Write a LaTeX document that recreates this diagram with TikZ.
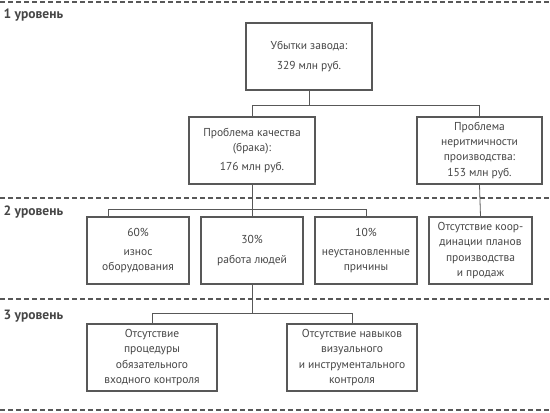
\documentclass[tikz,border=0pt]{standalone}
\usepackage{fontspec}
\setmainfont{PT Sans}
\usepackage{tikz}
\usetikzlibrary{positioning,calc}
\definecolor{framegray}{RGB}{88,88,88}
\definecolor{inkgray}{RGB}{70,70,70}

\begin{document}
\begin{tikzpicture}[x=1pt,y=-1pt,
    box/.style={draw=framegray,line width=1.4pt,inner sep=0pt,align=center,
      minimum height=67pt,text=inkgray,font=\fontsize{11.5}{15.2}\selectfont},
    link/.style={draw=framegray,line width=0.8pt},
    sep/.style={draw=framegray,line width=2.6pt,dash pattern=on 5pt off 3pt},
    lvl/.style={anchor=west,text=inkgray,font=\fontsize{13.5}{15}\selectfont\bfseries}]
  \useasboundingbox (0,0) rectangle (550,413);
  % level separators
  \draw[sep] (0,2) -- (550,2);
  \draw[sep] (0,198) -- (550,198);
  \draw[sep] (0,299) -- (550,299);
  \draw[sep] (0,410) -- (550,410);
  \node[lvl] (lvlone) at (0,15) {1 уровень};
  \node[lvl] (lvltwo) at (0,212) {2 уровень};
  \node[lvl] (lvlthree) at (0,316) {3 уровень};
  % level 1
  \node[box,minimum width=126pt] (loss) at (309,56.5) {Убытки завода:\\[4pt]329 млн руб.};
  \node[box,minimum width=126pt] (quality) at (252,150.5) {Проблема качества\\(брака):\\[3pt]176 млн руб.};
  \node[box,minimum width=125pt] (rhythm) at (479.5,150.5) {Проблема\\неритмичности\\производства:\\[1pt]153 млн руб.};
  % level 2
  \node[box,minimum width=102pt] (wear) at (138,250.5) {60\%\\[4pt]износ\\оборудования};
  \node[box,minimum width=102pt] (people) at (252,250.5) {30\%\\[5pt]работа людей};
  \node[box,minimum width=102pt] (unknown) at (366,250.5) {10\%\\[4pt]неустановленные\\причины};
  \node[box,minimum width=103pt] (coord) at (480.5,250.5) {Отсутствие коор-\\динации планов\\производства\\и продаж};
  % level 3
  \node[box,minimum width=130pt] (inspect) at (152,357.5) {Отсутствие\\процедуры\\обязательного\\входного контроля};
  \node[box,minimum width=130pt] (skill) at (352,357.5) {Отсутствие навыков\\визуального\\и инструментального\\контроля};
  % connectors
  \draw[link] (loss.south) -- ++(0,15) -| (quality.north);
  \draw[link] (loss.south) -- ++(0,15) -| (rhythm.north);
  \draw[link] (quality.south) -- ++(0,25) -| ([xshift=-30pt]wear.north);
  \draw[link] (quality.south) -- (people.north);
  \draw[link] (quality.south) -- ++(0,25) -| (unknown.north);
  \draw[link] (rhythm.south) -- (coord.north);
  \draw[link] (people.south) -- ++(0,29) -| (inspect.north);
  \draw[link] (people.south) -- ++(0,29) -| (skill.north);
\end{tikzpicture}
\end{document}
